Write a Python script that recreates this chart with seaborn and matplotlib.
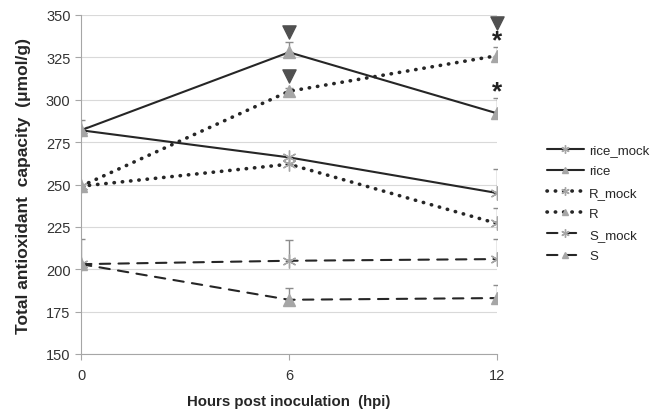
import matplotlib
matplotlib.use("Agg")
import matplotlib.pyplot as plt
import seaborn as sns
import pandas as pd

hpi = [0, 6, 12]
series_names = ["rice_mock", "rice", "R_mock", "R", "S_mock", "S"]
rice_mock = [282, 266, 245]
rice = [282, 328, 292]
R_mock = [249, 262, 227]
R = [249, 305, 326]
S_mock = [203, 205, 206]
S = [203, 182, 183]
# upper error bars
rice_mock_err = [6, 0, 14]
rice_err = [0, 6, 9]
R_mock_err = [0, 0, 9]
R_err = [0, 2, 5]
S_mock_err = [15, 12, 12]
S_err = [0, 7, 8]

# significance marks
tri_x = [6, 6, 12]
tri_y = [340, 314, 345]
star_x = [12, 12]
star_y = [335, 305]

values = [rice_mock, rice, R_mock, R, S_mock, S]
errors = [rice_mock_err, rice_err, R_mock_err, R_err, S_mock_err, S_err]

sns.set_style("white")
plt.rcParams["font.family"] = ["Liberation Sans", "DejaVu Sans"]

fig = plt.figure(figsize=(6.52, 4.10), dpi=100)
ax = fig.add_axes([81 / 652, 1 - 355 / 410, (497 - 81) / 652, (355 - 16) / 410])

line_c = "#262626"
mark_c = "#a6a6a6"
dots = (0, (0.1, 2.2))
dash = (0, (5, 4))
styles = {
    "rice_mock": dict(ls="-", marker=(6, 2, 0)),
    "rice": dict(ls="-", marker="^"),
    "R_mock": dict(ls=dots, marker=(6, 2, 0)),
    "R": dict(ls=dots, marker="^"),
    "S_mock": dict(ls=dash, marker=(6, 2, 0)),
    "S": dict(ls=dash, marker="^"),
}

for name, vals, err in zip(series_names, values, errors):
    df = pd.DataFrame({"hpi": hpi, "val": vals})
    st = styles[name]
    ax.errorbar(hpi, vals, yerr=[[0] * 3, err], fmt="none", ecolor="#8c8c8c",
                elinewidth=1, capsize=3, capthick=1, zorder=2)
    lw = 2.6 if st["ls"] == dots else 1.5
    ms = 8 if st["marker"] == "^" else 10
    sns.lineplot(data=df, x="hpi", y="val", ax=ax, color=line_c, lw=lw,
                 linestyle=st["ls"], marker=st["marker"], markersize=ms,
                 markerfacecolor=mark_c, markeredgecolor=mark_c,
                 markeredgewidth=1.0, dash_capstyle="round", label=name,
                 zorder=3)

ax.scatter(tri_x, tri_y, marker="v", s=90, color="#505050", zorder=4,
           clip_on=False)
for x, y in zip(star_x, star_y):
    ax.text(x, y, "*", ha="center", va="center", fontsize=19,
            fontweight="bold", color="#222222")

ax.set_xlim(0, 12)
ax.set_ylim(150, 350)
ax.set_xticks([0, 6, 12])
ax.set_yticks(range(150, 351, 25))
ax.yaxis.grid(True, color="#d9d9d9", lw=0.8)
ax.xaxis.grid(False)
for s in ["top", "right"]:
    ax.spines[s].set_visible(False)
for s in ["left", "bottom"]:
    ax.spines[s].set_color("#a6a6a6")
ax.tick_params(axis="both", length=4, color="#a6a6a6", labelsize=10.5,
               labelcolor="#333333", direction="out")
ax.tick_params(axis="y", left=True)
ax.tick_params(axis="x", bottom=True, pad=6)
ax.set_xlabel("Hours post inoculation  (hpi)", fontsize=10.8, fontweight="bold",
              labelpad=9)
ax.set_ylabel("Total antioxidant  capacity  (μmol/g)", fontsize=12.5,
              fontweight="bold", labelpad=11)

leg = ax.legend(loc="center left", bbox_to_anchor=(1.12, 0.445), frameon=False,
                fontsize=9.5, handlelength=2.8, labelspacing=0.68,
                handletextpad=0.4, borderaxespad=0, borderpad=0,
                markerscale=0.6)

fig.savefig("out.png", dpi=100)
